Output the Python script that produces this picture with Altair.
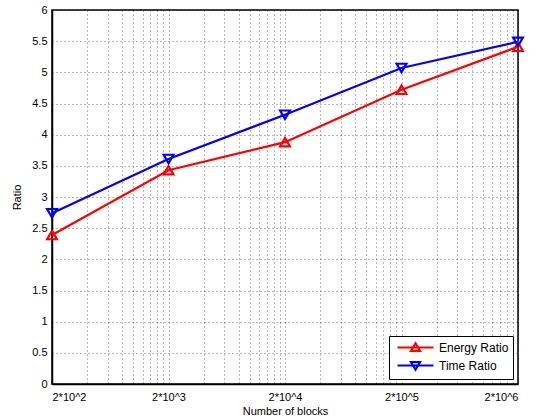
import altair as alt
import pandas as pd

blocks = [200, 2000, 20000, 200000, 2000000]
tick_labels = ["2*10^2", "2*10^3", "2*10^4", "2*10^5", "2*10^6"]
energy_ratio = [2.39, 3.43, 3.88, 4.72, 5.41]
time_ratio = [2.74, 3.61, 4.32, 5.07, 5.49]
series_names = ["Energy Ratio", "Time Ratio"]
y_ticks = [0, 0.5, 1, 1.5, 2, 2.5, 3, 3.5, 4, 4.5, 5, 5.5, 6]

rows = []
for b, e, t in zip(blocks, energy_ratio, time_ratio):
    rows.append({"blocks": b, "ratio": e, "series": series_names[0]})
    rows.append({"blocks": b, "ratio": t, "series": series_names[1]})
df = pd.DataFrame(rows)

# grid positions: 2*10^d * k
grid_vals = sorted({b * k for b in blocks[:-1] for k in range(1, 11)})
label_map = "{" + ",".join(f"'{b}': '{l}'" for b, l in zip(blocks, tick_labels)) + "}"
label_expr = f"{label_map}[toString(datum.value)] || ''"

FONT = "Liberation Sans"
colors = ["#ff0000", "#0000ff"]

x_enc = alt.X(
    "blocks:Q",
    scale=alt.Scale(type="log", domain=[200, 2000000], nice=False),
    axis=alt.Axis(
        values=grid_vals, labelExpr=label_expr, title="Number of blocks",
        labelOverlap=False, labelBound=False, ticks=False, labelPadding=7,
        titlePadding=3,
    ),
)
y_enc = alt.Y(
    "ratio:Q",
    scale=alt.Scale(domain=[0, 6], nice=False),
    axis=alt.Axis(values=y_ticks, format="~g", title="Ratio", ticks=False,
                  labelPadding=5, titlePadding=9),
)

line = alt.Chart(df).mark_line(strokeWidth=2.2).encode(
    x=x_enc, y=y_enc,
    color=alt.Color("series:N", scale=alt.Scale(domain=series_names, range=colors), legend=None),
)

points = alt.Chart(df).mark_point(filled=False, strokeWidth=2.2, size=95, opacity=1).encode(
    x=x_enc, y=y_enc,
    color=alt.Color("series:N", scale=alt.Scale(domain=series_names, range=colors), legend=None),
    shape=alt.Shape("series:N", scale=alt.Scale(domain=series_names, range=["triangle-up", "triangle-down"]), legend=None),
)

legend_paths = [
    "M-3,0L3,0M0,-0.7L0.75,0.55L-0.75,0.55Z",
    "M-3,0L3,0M0,0.7L0.75,-0.55L-0.75,-0.55Z",
]
leg = alt.Legend(
    title=None, orient="bottom-right", offset=5, strokeColor="black", fillColor="white",
    padding=4, labelFont=FONT, labelFontSize=12, labelColor="black", symbolSize=144,
    symbolStrokeWidth=2.2, symbolOpacity=1, rowPadding=1, symbolOffset=15, labelOffset=16,
)
legend_layer = alt.Chart(df).mark_point(filled=False, strokeWidth=2, opacity=0).encode(
    x=x_enc, y=y_enc,
    color=alt.Color("series:N", scale=alt.Scale(domain=series_names, range=colors), legend=leg),
    shape=alt.Shape("series:N", scale=alt.Scale(domain=series_names, range=legend_paths), legend=leg),
)

chart = alt.layer(line, points, legend_layer).resolve_scale(
    color="independent", shape="independent"
).properties(
    width=466, height=374,
    autosize=alt.AutoSizeParams(type="none"),
    padding={"left": 52, "top": 10, "right": 27, "bottom": 35},
).configure_view(
    stroke="black", strokeWidth=1.5
).configure_axis(
    grid=True, gridColor="#000000", gridOpacity=0.55, gridDash=[1, 3], gridWidth=1,
    domain=True, domainColor="black", domainWidth=1.5,
    labelFont=FONT, labelFontSize=11, labelColor="black",
    titleFont=FONT, titleFontSize=11, titleColor="black", titleFontWeight="normal",
)

chart.save("out.html", embed_options={"renderer": "svg", "actions": False})
